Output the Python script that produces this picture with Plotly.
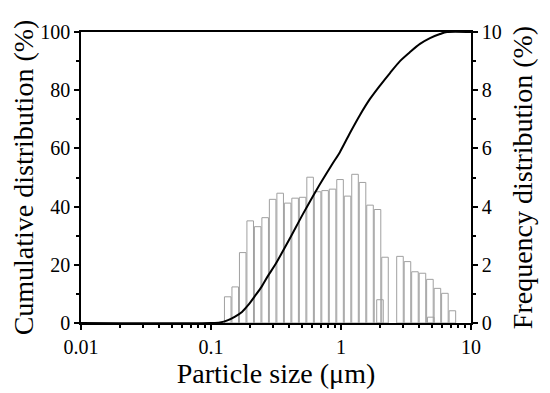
import numpy as np
import plotly.graph_objects as go

# Frequency distribution (bins, µm) and values (%)
bin_size_um = [0.1345, 0.1536, 0.1754, 0.2002, 0.2286, 0.2610, 0.2980, 0.3404,
               0.3886, 0.4437, 0.5067, 0.5785, 0.6607, 0.7543, 0.8612, 0.9835,
               1.123, 1.282, 1.464, 1.672, 1.909, 2.180, 2.842, 3.245,
               3.705, 4.231, 4.831, 5.516, 6.298, 7.192]
freq_pct = [0.90, 1.24, 2.42, 3.51, 3.31, 3.62, 4.25, 4.46,
            4.12, 4.29, 4.32, 5.01, 4.51, 4.55, 4.60, 4.93,
            4.36, 5.11, 4.83, 4.05, 3.90, 2.26, 2.29, 2.11,
            1.76, 1.71, 1.50, 1.19, 1.02, 0.42]
# small overlapping bars
extra_size_um = [1.995, 4.90]
extra_freq_pct = [0.80, 0.20]

# Cumulative distribution
cum_size_um = [0.01, 0.1, 0.1173, 0.1352, 0.1531, 0.1731, 0.1936, 0.2180, 0.2453,
               0.2744, 0.3105, 0.398, 0.5103, 0.6535, 0.8484, 0.9824, 1.172,
               1.400, 1.671, 1.995, 2.381, 2.842, 3.393, 4.050, 4.836, 5.775,
               6.535, 10.0]
cum_pct = [0, 0, 0.2, 1.0, 2.2, 3.8, 6.2, 9.3, 12.5,
           16.2, 19.9, 28.5, 37.5, 46.0, 54.3, 58.8, 65.3,
           71.5, 77.0, 81.6, 85.9, 90.0, 93.1, 95.9, 97.9, 99.3,
           100, 100]

x_tickvals = [0.01, 0.1, 1, 10]
x_ticktext = ["0.01", "0.1", "1", "10"]

FONT = "Liberation Serif"
bar_w = 0.0505
fig = go.Figure()
fig.add_trace(go.Bar(
    x=np.log10(bin_size_um), y=freq_pct, width=bar_w,
    marker=dict(color="white", line=dict(color="#a0a0a0", width=1)),
    xaxis="x", yaxis="y", showlegend=False))
fig.add_trace(go.Bar(
    x=np.log10(extra_size_um), y=extra_freq_pct, width=bar_w,
    marker=dict(color="rgba(0,0,0,0)", line=dict(color="#a0a0a0", width=1)),
    xaxis="x", yaxis="y", showlegend=False))
fig.add_trace(go.Scatter(
    x=cum_size_um, y=cum_pct, mode="lines",
    line=dict(color="black", width=2, shape="spline", smoothing=0.8),
    xaxis="x2", yaxis="y2", showlegend=False))

tickfont = dict(family=FONT, size=20, color="black")
titlefont = dict(family=FONT, size=28, color="black")
fig.update_layout(
    width=542, height=385,
    margin=dict(l=73, r=79, t=24, b=70),
    font=dict(family=FONT, color="black"),
    paper_bgcolor="white", plot_bgcolor="white",
    barmode="overlay",
    xaxis=dict(type="linear", range=[-2, 1], visible=False, showgrid=False,
               zeroline=False, anchor="y", automargin=False),
    yaxis=dict(range=[0, 10], side="right", anchor="x", automargin=False,
               showgrid=False, zeroline=False, showline=True, linecolor="black",
               linewidth=1.5, ticks="outside", ticklen=5, tickwidth=1.5,
               tickcolor="black", dtick=2, tickfont=tickfont,
               minor=dict(ticks="outside", ticklen=3, tickwidth=1.5,
                          tickcolor="black", dtick=1, showgrid=False),
               title=dict(text="Frequency distribution (%)", font=titlefont,
                          standoff=12)),
    xaxis2=dict(type="log", range=[-2, 1], overlaying="x", anchor="y2",
                side="bottom", automargin=False, showgrid=False, zeroline=False,
                showline=True, linecolor="black", linewidth=1.5, mirror=True,
                ticks="outside", ticklen=5, tickwidth=1.5, tickcolor="black",
                tickvals=x_tickvals, ticktext=x_ticktext, tickfont=tickfont,
                minor=dict(ticks="outside", ticklen=3, tickwidth=1.5,
                           tickcolor="black", dtick="D1", showgrid=False),
                title=dict(text="Particle size (μm)", font=titlefont,
                           standoff=3)),
    yaxis2=dict(range=[0, 100], overlaying="y", side="left", anchor="x2",
                automargin=False, showgrid=False, zeroline=False, showline=True,
                linecolor="black", linewidth=1.5,
                ticks="outside", ticklen=5, tickwidth=1.5, tickcolor="black",
                dtick=20, tickfont=tickfont,
                minor=dict(ticks="outside", ticklen=3, tickwidth=1.5,
                           tickcolor="black", dtick=10, showgrid=False),
                title=dict(text="Cumulative distribution (%)", font=titlefont,
                           standoff=4)),
)
fig.write_html("out.html")
